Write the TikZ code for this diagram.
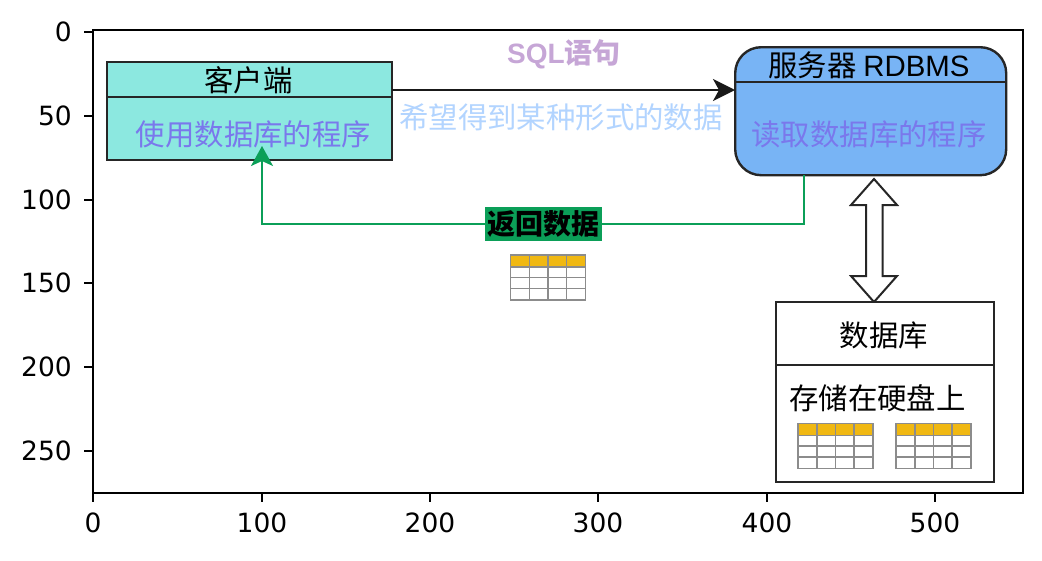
\documentclass[tikz,border=0pt]{standalone}
\usepackage{fontspec}
\usetikzlibrary{arrows.meta}
\setmainfont{Liberation Sans}
\newfontfamily\cjk{Noto Sans CJK SC}
\newfontfamily\tickfont{DejaVu Sans}
\definecolor{clientfill}{HTML}{8CE8E0}
\definecolor{serverfill}{HTML}{78B4F5}
\definecolor{progtext}{HTML}{7A78EC}
\definecolor{hinttext}{HTML}{B2D4FF}
\definecolor{sqltext}{HTML}{C6A6D6}
\definecolor{retgreen}{HTML}{0B9F58}
\definecolor{gold}{HTML}{F0B812}
\definecolor{gridgray}{HTML}{8C8C8C}
\newcommand{\dbtable}[2]{%
  \begin{scope}[shift={(#1,#2)}]
    \fill[gold] (0,0) rectangle (75,12);
    \draw[gridgray,line width=1.9pt] (0,0) rectangle (75,45);
    \foreach \cx in {19,37.5,56} \draw[gridgray,line width=1.9pt] (\cx,0) -- (\cx,45);
    \foreach \cy in {12,22.5,33.5} \draw[gridgray,line width=1.9pt] (0,\cy) -- (75,\cy);
  \end{scope}}
\tikzset{
  x=1pt,y=-1pt,
  axisline/.style={line width=2pt,black},
  ticklabel/.style={font=\tickfont\fontsize{26.5}{26.5}\selectfont,inner sep=0pt},
  boxline/.style={draw=black!85,line width=2.4pt},
  boxnode/.style={boxline,minimum width=0pt,minimum height=0pt,inner sep=0pt,anchor=north west},
  label/.style={font=\cjk\fontsize{29.4}{29.4}\selectfont,inner sep=0pt},
  labelb/.style={font=\cjk\bfseries\fontsize{28}{28}\selectfont,inner sep=0pt},
}
\begin{document}
\begin{tikzpicture}
\useasboundingbox (0,0) rectangle (1042,560);
% axes
\draw[axisline] (93,30) rectangle (1023,493);
\foreach \tx/\tl in {93/0,262/100,430/200,598/300,767/400,935/500}{
  \draw[axisline] (\tx,493) -- (\tx,502);
  \node[ticklabel,anchor=base] at (\tx,532) {\tl};
}
\foreach \ty/\tl in {32/0,116/50,200/100,283/150,367/200,451/250}{
  \draw[axisline] (93,\ty) -- (84,\ty);
  \node[ticklabel,anchor=east] at (72,\ty) {\tl};
}
% client
\node[boxnode,fill=clientfill,minimum width=285pt,minimum height=98pt] (client) at (106,61) {};
\coordinate (clientdivL) at (107,97);
\coordinate (clientdivR) at (392,97);
\draw[boxline] (clientdivL) -- (clientdivR);
\node[label] (clienttitle) at (248.5,80.5) {客户端};
\node[label,text=progtext] (clientprog) at (253.5,134) {使用数据库的程序};
% server
\node[boxnode,fill=serverfill,rounded corners=26pt,minimum width=271pt,minimum height=128pt] (server) at (734,46) {};
\coordinate (serverdivL) at (735,82);
\coordinate (serverdivR) at (1006,82);
\draw[boxline] (serverdivL) -- (serverdivR);
\node[label] (servertitle) at (869,65) {服务器 {\fontspec{Liberation Sans}RDBMS}};
\node[label,text=progtext] (serverprog) at (869,134) {读取数据库的程序};
% request arrow
\coordinate (sqlstart) at (392,90);
\coordinate (sqlend) at (735,90);
\draw[black!90,line width=2pt,-{Stealth[length=22pt,width=22pt,inset=6pt]}] (sqlstart) -- (sqlend);
\node[labelb,text=sqltext] (sqllabel) at (564,54) {{\fontspec{Liberation Sans Bold}SQL}语句};
\node[label,text=hinttext] (hint) at (561,117) {希望得到某种形式的数据};
% return arrow
\node[labelb,fill=retgreen,minimum width=117pt,minimum height=34pt] (retlabel) at (543.5,224) {返回数据};
\coordinate (retstart) at (804,175);
\coordinate (retend) at (262,146);
\draw[retgreen,line width=2pt] (retstart) |- (retlabel.east);
\draw[retgreen,line width=2pt,-{Stealth[length=20pt,width=22pt,inset=5pt]}] (retlabel.west) -| (retend);
\dbtable{510.5}{255}
% double arrow
\draw[black!85,line width=2pt,fill=white,line join=miter]
  (874,179) -- (897,205) -- (882.5,205) -- (882.5,276) -- (897,276) -- (874,302)
  -- (851,276) -- (866,276) -- (866,205) -- (851,205) -- cycle;
% database
\node[boxnode,fill=white,minimum width=218pt,minimum height=180pt] (db) at (775,301) {};
\coordinate (dbdivL) at (776,365);
\coordinate (dbdivR) at (994,365);
\draw[boxline] (dbdivL) -- (dbdivR);
\node[label] (dbtitle) at (884,335) {数据库};
\node[label] (dbtext) at (877.5,398.5) {存储在硬盘上};
\dbtable{798}{423.5}
\dbtable{896}{423.5}
\end{tikzpicture}
\end{document}
